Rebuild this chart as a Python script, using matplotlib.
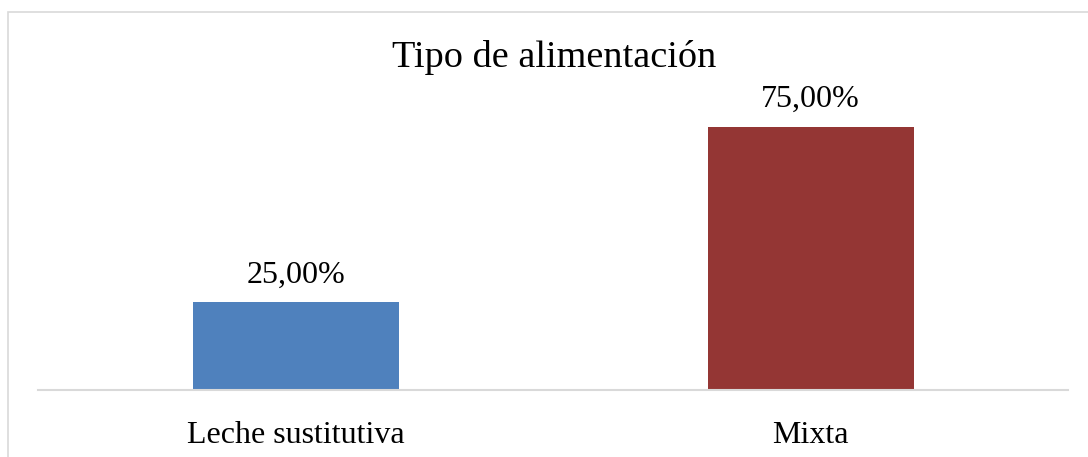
import matplotlib
matplotlib.use("Agg")
import matplotlib.pyplot as plt
from matplotlib.patches import Rectangle

categories = ["Leche sustitutiva", "Mixta"]
values = [25.0, 75.0]
value_labels = ["25,00%", "75,00%"]
colors = ["#4F81BD", "#943634"]
title = "Tipo de alimentación"

plt.rcParams['font.family'] = ['Liberation Serif', 'DejaVu Serif']

W, H = 1088, 457
fig = plt.figure(figsize=(W / 100, H / 100), dpi=100)

# outer chart frame
fig.patches.append(Rectangle((8 / W, -0.1), 1.2, 1 - 12 / H + 0.1, transform=fig.transFigure,
                             fill=False, edgecolor="#D9D9D9", linewidth=1.2))

ax_left, ax_right = 38, 1068
ax_bottom_px, ax_top_px = 390, 109
ax = fig.add_axes([ax_left / W, (H - ax_bottom_px) / H, (ax_right - ax_left) / W,
                   (ax_bottom_px - ax_top_px) / H])
x = range(len(categories))
bars = ax.bar(x, values, width=0.40, color=colors)
ax.set_xlim(-0.5, 1.5)
ax.set_ylim(0, 80)

for s in ["top", "right", "left"]:
    ax.spines[s].set_visible(False)
ax.spines["bottom"].set_color("#D9D9D9")
ax.spines["bottom"].set_linewidth(1.5)
ax.set_yticks([])
ax.set_xticks(list(x))
ax.set_xticklabels(categories, fontsize=23)
ax.tick_params(axis="x", length=0, pad=22)

for b, lab in zip(bars, value_labels):
    ax.annotate(lab, (b.get_x() + b.get_width() / 2, b.get_height()),
                xytext=(0, 9), textcoords="offset points",
                ha="center", va="bottom", fontsize=23)

fig.text(554 / W, (H - 67) / H, title, ha="center", va="baseline", fontsize=27.5)

fig.savefig("out.png", dpi=100)
